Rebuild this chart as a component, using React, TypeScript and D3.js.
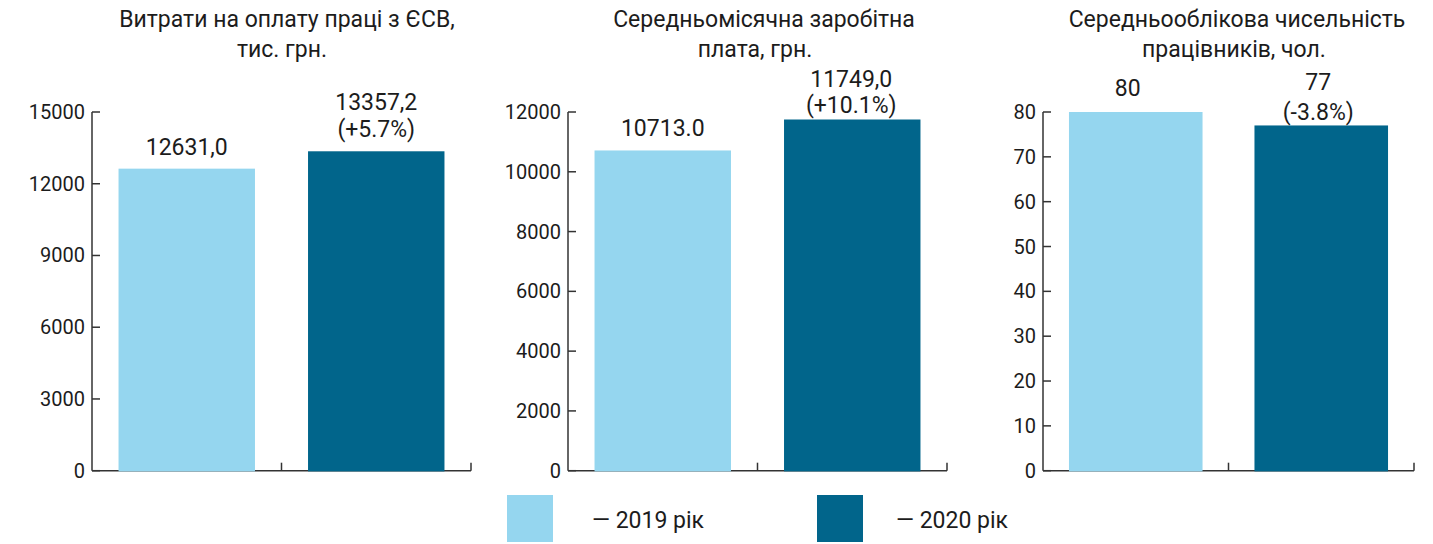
import React from "react";
import * as d3 from "d3";

// data
const years = ["2019 рік", "2020 рік"];
const colors = ["#95d6ef", "#01658b"];

const titles = [
  ["Витрати на оплату праці з ЄСВ,", "тис. грн."],
  ["Середньомісячна заробітна", "плата, грн."],
  ["Середньооблікова чисельність", "працівників, чол."],
];

const wageFund = [12631.0, 13357.2];
const avgSalary = [10713.0, 11749.0];
const headcount = [80, 77];

const wageFundLabels = ["12631,0", "13357,2"];
const avgSalaryLabels = ["10713.0", "11749,0"];
const headcountLabels = ["80", "77"];

const changes = ["(+5.7%)", "(+10.1%)", "(-3.8%)"];

const wageFundTicks = [0, 3000, 6000, 9000, 12000, 15000];
const avgSalaryTicks = [0, 2000, 4000, 6000, 8000, 10000, 12000];
const headcountTicks = [0, 10, 20, 30, 40, 50, 60, 70, 80];

// layout per panel
const panels = [
  { values: wageFund, labels: wageFundLabels, ticks: wageFundTicks, x0: 92, x1: 471, titleX: [287, 282], gaps: [14, 14], lineGap: 27, dx: [0, 0] },
  { values: avgSalary, labels: avgSalaryLabels, ticks: avgSalaryTicks, x0: 568, x1: 947, titleX: [764, 755], gaps: [14, 6.5], lineGap: 26, dx: [0, -1] },
  { values: headcount, labels: headcountLabels, ticks: headcountTicks, x0: 1043, x1: 1414, titleX: [1237, 1234], gaps: [16, 5.5], lineGap: 30, dx: [-8, -3] },
];

const W = 1433;
const H = 544;
const yTop = 112;
const yBase = 470.7;
const ink = "#1c1c1c";
const axisColor = "#333";
const font = "Roboto, 'Noto Sans', sans-serif";

const Panel = ({ p, i }) => {
  const x = d3.scaleBand().domain(years).range([p.x0, p.x1]).paddingInner(0.28).paddingOuter(0.14);
  const y = d3.scaleLinear().domain([0, d3.max(p.ticks)]).range([yBase, yTop]);
  // category ticks sit at the right edge of each band step
  const boundaries = years.map((d) => x(d) + x.step() * 0.86);

  return (
    <g>
      {titles[i].map((t, k) => (
        <text key={k} x={p.titleX[k]} y={27 + k * 29.5} textAnchor="middle" fontSize={23} fill={ink}>
          {t}
        </text>
      ))}

      {/* y axis */}
      <line x1={p.x0} x2={p.x0} y1={y(d3.max(p.ticks))} y2={yBase} stroke={axisColor} strokeWidth={1.5} />
      {p.ticks.map((t) => (
        <g key={t}>
          <line x1={p.x0} x2={p.x0 + 8} y1={y(t)} y2={y(t)} stroke={axisColor} strokeWidth={1.5} />
          <text x={p.x0 - 7} y={y(t)} dy="0.35em" textAnchor="end" fontSize={20} fill={ink}>
            {t}
          </text>
        </g>
      ))}

      {/* x axis */}
      <line x1={p.x0} x2={p.x1} y1={yBase} y2={yBase} stroke={axisColor} strokeWidth={1.5} />
      {boundaries.map((b, k) => (
        <line key={k} x1={b} x2={b} y1={yBase} y2={yBase - 8} stroke={axisColor} strokeWidth={1.5} />
      ))}

      {/* bars */}
      {p.values.map((v, k) => (
        <rect
          key={k}
          x={x(years[k])}
          y={y(v)}
          width={x.bandwidth()}
          height={yBase - y(v) + 0.7}
          fill={colors[k]}
        />
      ))}

      {/* value labels */}
      {p.values.map((v, k) => {
        const cx = x(years[k]) + x.bandwidth() / 2 + p.dx[k];
        const base = y(v) - p.gaps[k];
        const lines = k === 1 ? [p.labels[k], changes[i]] : [p.labels[k]];
        return (
          <text key={k} textAnchor="middle" fontSize={23} fill={ink}>
            {lines.map((l, j) => (
              <tspan key={j} x={cx} y={base - (lines.length - 1 - j) * p.lineGap}>
                {l}
              </tspan>
            ))}
          </text>
        );
      })}
    </g>
  );
};

const legendItems = [
  { x: 507, textX: 592 },
  { x: 817, textX: 896 },
];

export default function App() {
  return (
    <svg
      width={W}
      height={H}
      style={{ position: "absolute", left: 0, top: 0, background: "#fff", fontFamily: font }}
    >
      {panels.map((p, i) => (
        <Panel key={i} p={p} i={i} />
      ))}
      {years.map((yr, k) => (
        <g key={yr}>
          <rect x={legendItems[k].x} y={495} width={46} height={47} fill={colors[k]} />
          <text x={legendItems[k].textX} y={528} fontSize={23} fill={ink}>
            {"\u2014 " + yr}
          </text>
        </g>
      ))}
    </svg>
  );
}
